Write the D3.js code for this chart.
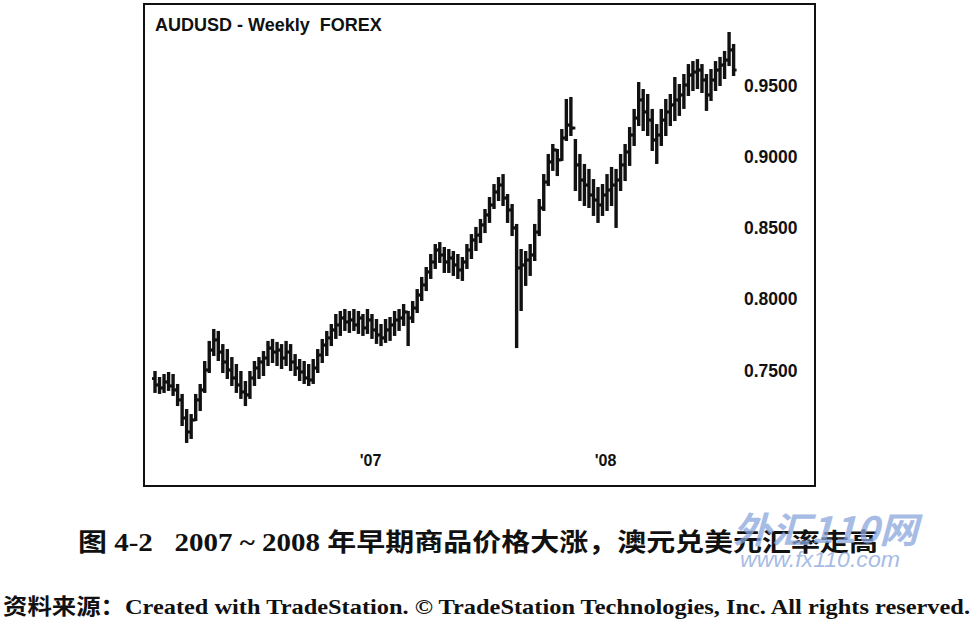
<!DOCTYPE html>
<html>
<head>
<meta charset="utf-8">
<script src="https://cdn.jsdelivr.net/npm/d3@7"></script>
<style>
  body { margin: 0; background: #fff; }
  svg { display: block; }
  text { white-space: pre; }
</style>
</head>
<body>
<svg id="chart" width="973" height="622" viewBox="0 0 973 622"></svg>
<script>
// weekly AUDUSD bars, first bar week ending Fri 3 Feb 2006
const firstWeek = new Date(2006, 1, 3)

const highs = [
  0.7486, 0.7444, 0.7465, 0.7479, 0.7465, 0.7395, 0.7325, 0.7219, 0.7184, 0.7325,
  0.7395, 0.7556, 0.7697, 0.7781, 0.7767, 0.7675, 0.7640, 0.7584, 0.7535, 0.7486,
  0.7416, 0.7486, 0.7556, 0.7584, 0.7626, 0.7697, 0.7711, 0.7690, 0.7675, 0.7697,
  0.7675, 0.7605, 0.7570, 0.7556, 0.7535, 0.7570, 0.7640, 0.7711, 0.7767, 0.7816,
  0.7886, 0.7907, 0.7921, 0.7907, 0.7921, 0.7907, 0.7886, 0.7921, 0.7886, 0.7851,
  0.7816, 0.7851, 0.7865, 0.7907, 0.7921, 0.7956, 0.7907, 0.7977, 0.8061, 0.8146,
  0.8216, 0.8307, 0.8377, 0.8391, 0.8356, 0.8342, 0.8328, 0.8307, 0.8286, 0.8377,
  0.8447, 0.8497, 0.8553, 0.8623, 0.8707, 0.8798, 0.8847, 0.8868, 0.8728, 0.8658,
  0.8518, 0.8342, 0.8328, 0.8377, 0.8518, 0.8693, 0.8868, 0.9009, 0.9079, 0.9044,
  0.9184, 0.9395, 0.9409, 0.9114, 0.9009, 0.8939, 0.8904, 0.8833, 0.8777, 0.8798,
  0.8868, 0.8918, 0.8904, 0.9009, 0.9079, 0.9198, 0.9325, 0.9514, 0.9465, 0.9430,
  0.9325, 0.9219, 0.9325, 0.9395, 0.9430, 0.9549, 0.9500, 0.9570, 0.9640, 0.9661,
  0.9675, 0.9640, 0.9570, 0.9605, 0.9661, 0.9690, 0.9732, 0.9865, 0.9781
]
const lows = [
  0.7346, 0.7339, 0.7346, 0.7360, 0.7325, 0.7254, 0.7114, 0.6995, 0.7023, 0.7149,
  0.7219, 0.7346, 0.7486, 0.7605, 0.7570, 0.7486, 0.7444, 0.7395, 0.7346, 0.7304,
  0.7254, 0.7304, 0.7395, 0.7444, 0.7465, 0.7535, 0.7556, 0.7535, 0.7514, 0.7535,
  0.7500, 0.7465, 0.7430, 0.7409, 0.7395, 0.7409, 0.7486, 0.7556, 0.7605, 0.7675,
  0.7725, 0.7746, 0.7781, 0.7767, 0.7781, 0.7760, 0.7746, 0.7760, 0.7725, 0.7690,
  0.7675, 0.7697, 0.7711, 0.7746, 0.7781, 0.7816, 0.7675, 0.7837, 0.7907, 0.7991,
  0.8061, 0.8146, 0.8216, 0.8258, 0.8188, 0.8188, 0.8167, 0.8146, 0.8132, 0.8216,
  0.8286, 0.8342, 0.8398, 0.8468, 0.8539, 0.8637, 0.8693, 0.8658, 0.8539, 0.8447,
  0.7661, 0.7921, 0.8097, 0.8167, 0.8272, 0.8447, 0.8623, 0.8798, 0.8904, 0.8868,
  0.8974, 0.9114, 0.9149, 0.8763, 0.8693, 0.8658, 0.8644, 0.8588, 0.8539, 0.8588,
  0.8623, 0.8658, 0.8504, 0.8763, 0.8833, 0.8939, 0.9079, 0.9219, 0.9184, 0.9149,
  0.9044, 0.8953, 0.9079, 0.9149, 0.9219, 0.9254, 0.9290, 0.9339, 0.9430, 0.9465,
  0.9479, 0.9451, 0.9325, 0.9395, 0.9465, 0.9500, 0.9549, 0.9640, 0.9570
]
const closes = [
  0.7395, 0.7374, 0.7416, 0.7388, 0.7360, 0.7290, 0.7163, 0.7065, 0.7149, 0.7290,
  0.7360, 0.7500, 0.7640, 0.7711, 0.7626, 0.7556, 0.7500, 0.7444, 0.7395, 0.7346,
  0.7325, 0.7444, 0.7514, 0.7556, 0.7584, 0.7654, 0.7626, 0.7640, 0.7584, 0.7626,
  0.7556, 0.7514, 0.7486, 0.7444, 0.7430, 0.7514, 0.7605, 0.7675, 0.7725, 0.7781,
  0.7816, 0.7865, 0.7837, 0.7851, 0.7816, 0.7865, 0.7795, 0.7851, 0.7781, 0.7746,
  0.7725, 0.7781, 0.7816, 0.7851, 0.7865, 0.7907, 0.7865, 0.7935, 0.8026, 0.8097,
  0.8188, 0.8258, 0.8342, 0.8307, 0.8258, 0.8286, 0.8237, 0.8202, 0.8258, 0.8342,
  0.8412, 0.8447, 0.8518, 0.8588, 0.8658, 0.8749, 0.8798, 0.8707, 0.8623, 0.8497,
  0.8216, 0.8237, 0.8272, 0.8307, 0.8468, 0.8637, 0.8819, 0.8960, 0.9044, 0.8974,
  0.9128, 0.9219, 0.9198, 0.8939, 0.8833, 0.8798, 0.8728, 0.8693, 0.8658, 0.8728,
  0.8763, 0.8798, 0.8833, 0.8939, 0.9030, 0.9149, 0.9268, 0.9395, 0.9311, 0.9254,
  0.9114, 0.9149, 0.9254, 0.9311, 0.9360, 0.9395, 0.9430, 0.9500, 0.9570, 0.9591,
  0.9605, 0.9535, 0.9430, 0.9535, 0.9605, 0.9640, 0.9675, 0.9746, 0.9605
]
const firstOpen = 0.7440

const priceTicks = [0.75, 0.80, 0.85, 0.90, 0.95]
const chartTitle = "AUDUSD - Weekly  FOREX"
const caption = "图 4-2   2007 ~ 2008 年早期商品价格大涨，澳元兑美元汇率走高"
const source = "资料来源：Created with TradeStation. © TradeStation Technologies, Inc. All rights reserved."

const dates = d3.range(highs.length).map(i => d3.timeWeek.offset(firstWeek, i))
const bars = dates.map((d, i) => ({
  date: d,
  open: i === 0 ? firstOpen : closes[i - 1],
  high: highs[i],
  low: lows[i],
  close: closes[i]
}))

const svg = d3.select("#chart")
const boxLeft = 144, boxRight = 815, boxTop = 4, boxBottom = 486

const x = d3.scaleTime()
  .domain([dates[0], dates[dates.length - 1]])
  .range([155, 733.6])
const y = d3.scaleLinear()
  .domain([0.75, 0.95])
  .range([370, 85])

// frame
svg.append("rect")
  .attr("x", boxLeft).attr("y", boxTop)
  .attr("width", boxRight - boxLeft).attr("height", boxBottom - boxTop)
  .attr("fill", "none").attr("stroke", "#111").attr("stroke-width", 2)

svg.append("text")
  .attr("x", 155).attr("y", 31)
  .attr("font-family", "Liberation Sans, Arial, sans-serif")
  .attr("font-weight", "bold").attr("font-size", 18)
  .attr("fill", "#111")
  .text(chartTitle)

// OHLC bars
const barG = svg.append("g").attr("stroke", "#111").attr("stroke-linecap", "butt")
const bar = barG.selectAll("g").data(bars).enter().append("g")
bar.append("line")
  .attr("x1", d => x(d.date)).attr("x2", d => x(d.date))
  .attr("y1", d => y(d.high) - 1).attr("y2", d => y(d.low) + 1)
  .attr("stroke-width", 3.4)
bar.append("line")
  .attr("x1", d => x(d.date) - 3).attr("x2", d => x(d.date))
  .attr("y1", d => y(d.open)).attr("y2", d => y(d.open))
  .attr("stroke-width", 2.8)
bar.append("line")
  .attr("x1", d => x(d.date)).attr("x2", d => x(d.date) + 3)
  .attr("y1", d => y(d.close)).attr("y2", d => y(d.close))
  .attr("stroke-width", 2.8)

// price axis on the right
const yAxis = svg.append("g")
  .attr("transform", "translate(744,0)")
  .call(d3.axisRight(y).tickValues(priceTicks).tickSize(0).tickPadding(0).tickFormat(d3.format(".4f")))
yAxis.select(".domain").remove()
yAxis.selectAll("text")
  .attr("font-family", "Liberation Sans, Arial, sans-serif")
  .attr("font-weight", "bold").attr("font-size", 17.5)
  .attr("fill", "#111").attr("dy", "0.35em")

// year labels at first bar of each year
const yearStarts = dates.filter((d, i) => i > 0 && d.getFullYear() !== dates[i - 1].getFullYear())
const xAxis = svg.append("g")
  .attr("transform", "translate(0,454)")
  .call(d3.axisBottom(x).tickValues(yearStarts).tickSize(0).tickPadding(0).tickFormat(d3.timeFormat("'%y")))
xAxis.select(".domain").remove()
xAxis.selectAll("text")
  .attr("font-family", "Liberation Sans, Arial, sans-serif")
  .attr("font-weight", "bold").attr("font-size", 16)
  .attr("fill", "#111").attr("dy", "0.75em")
  .attr("dx", -2)

// caption and source line
svg.append("text")
  .attr("x", 78).attr("y", 551)
  .attr("textLength", 800).attr("lengthAdjust", "spacingAndGlyphs")
  .attr("font-family", "Liberation Serif, 'Noto Sans CJK SC', serif")
  .attr("font-weight", "bold").attr("font-size", 25)
  .attr("fill", "#111")
  .text(caption)

svg.append("text")
  .attr("x", 3).attr("y", 614)
  .attr("textLength", 967).attr("lengthAdjust", "spacingAndGlyphs")
  .attr("font-family", "Liberation Serif, 'Noto Sans CJK SC', serif")
  .attr("font-weight", "bold").attr("font-size", 22)
  .attr("fill", "#111")
  .text(source)

// site watermark, printed over the caption as in the scan
const wm = svg.append("g").attr("fill", "#8aa6dc").attr("opacity", 0.75)
wm.append("text")
  .attr("x", 733).attr("y", 543)
  .attr("textLength", 185).attr("lengthAdjust", "spacingAndGlyphs")
  .attr("font-family", "'Noto Sans CJK SC', sans-serif")
  .attr("font-weight", "bold").attr("font-style", "italic").attr("font-size", 36)
  .text("外汇110网")
wm.append("text")
  .attr("x", 740).attr("y", 567)
  .attr("textLength", 160).attr("lengthAdjust", "spacingAndGlyphs")
  .attr("font-family", "Liberation Sans, Arial, sans-serif")
  .attr("font-style", "italic").attr("font-size", 22)
  .text("www.fx110.com")
</script>
</body>
</html>
